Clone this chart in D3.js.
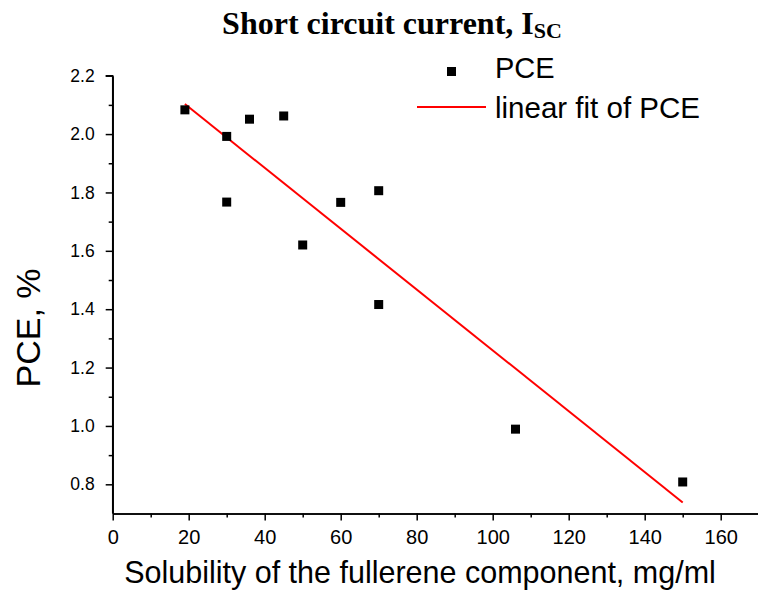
<!DOCTYPE html>
<html>
<head>
<meta charset="utf-8">
<script src="https://cdn.jsdelivr.net/npm/d3@7"></script>
<style>
  body { margin: 0; background: #fff; }
  svg { display: block; }
  text { font-family: Arial, "Liberation Sans", sans-serif; fill: #000; }
</style>
</head>
<body>
<div class="div-chart"></div>
<script>
// values
const solubility = [19, 30, 36, 45, 30, 60, 70, 50, 70, 106, 150];
const pce = [2.083, 1.992, 2.051, 2.062, 1.767, 1.766, 1.806, 1.62, 1.416, 0.989, 0.808];
const fitX = [19, 150];
const fitY = [2.103, 0.738];
const xTicks = [0, 20, 40, 60, 80, 100, 120, 140, 160];
const xMinor = [10, 30, 50, 70, 90, 110, 130, 150, 170];
const yTicks = [0.8, 1.0, 1.2, 1.4, 1.6, 1.8, 2.0, 2.2];
const yMinor = [0.9, 1.1, 1.3, 1.5, 1.7, 1.9, 2.1];

const width = 758, height = 593;

const svg = d3.select('.div-chart')
    .append('svg')
    .attr('width', width)
    .attr('height', height);

const xScale = d3.scaleLinear()
    .domain([0, 170])
    .range([112.7, 758.7]);

const yScale = d3.scaleLinear()
    .domain([0.7, 2.2])
    .range([513.5, 75.7]);

// x axis
const xAxis = svg.append("g")
    .attr("transform", `translate(0,${yScale(0.7)})`)
    .call(d3.axisBottom(xScale).tickValues(xTicks).tickSize(7).tickSizeOuter(0).tickFormat(d3.format("d")));
xAxis.append("g")
    .call(d3.axisBottom(xScale).tickValues(xMinor).tickSize(4).tickSizeOuter(0).tickFormat(""));
xAxis.selectAll("path, line").attr("stroke", "#000").attr("stroke-width", 1.5);
xAxis.selectAll("text")
    .attr("y", 30.5).attr("dy", null)
    .style("font-size", "20px")
    .style("font-family", "Arial, 'Liberation Sans', sans-serif");

// y axis
const yAxis = svg.append("g")
    .attr("transform", `translate(${xScale(0)},0)`)
    .call(d3.axisLeft(yScale).tickValues(yTicks).tickSize(7).tickSizeOuter(0).tickPadding(11).tickFormat(d3.format(".1f")));
yAxis.append("g")
    .call(d3.axisLeft(yScale).tickValues(yMinor).tickSize(4).tickSizeOuter(0).tickFormat(""));
yAxis.select(".domain").attr("d", `M0,${yScale(0.7)}V${yScale(2.2)}H-7`);
yAxis.selectAll("path, line").attr("stroke", "#000").attr("stroke-width", 1.5);
yAxis.selectAll("text")
    .style("font-size", "17.5px")
    .style("font-family", "Arial, 'Liberation Sans', sans-serif");

// fit line
svg.append("path")
    .datum(fitX.map((x, i) => [x, fitY[i]]))
    .attr("fill", "none")
    .attr("stroke", "#ff0000")
    .attr("stroke-width", 2)
    .attr("d", d3.line().x(d => xScale(d[0])).y(d => yScale(d[1])));

// data points
svg.selectAll(".dot")
    .data(solubility.map((x, i) => ({x: x, y: pce[i]})))
    .enter().append("rect")
    .attr("class", "dot")
    .attr("x", d => xScale(d.x) - 4.5)
    .attr("y", d => yScale(d.y) - 4.5)
    .attr("width", 9)
    .attr("height", 9)
    .attr("fill", "#000");

// title
const title = svg.append("text")
    .attr("x", 392)
    .attr("y", 34)
    .attr("text-anchor", "middle")
    .style("font-family", "'Liberation Serif', 'Times New Roman', serif")
    .style("font-weight", "bold")
    .style("font-size", "32px");
title.append("tspan").text("Short circuit current, I");
title.append("tspan").attr("dy", 4).style("font-size", "22px").text("SC");

// axis titles
svg.append("text")
    .attr("x", 420)
    .attr("y", 583)
    .attr("text-anchor", "middle")
    .style("font-size", "30.5px")
    .text("Solubility of the fullerene component, mg/ml");

svg.append("text")
    .attr("transform", "translate(40,328) rotate(-90)")
    .attr("text-anchor", "middle")
    .style("font-size", "34px")
    .text("PCE, %");

// legend
const legend = svg.append("g");
legend.append("rect")
    .attr("x", 447).attr("y", 67).attr("width", 9).attr("height", 9)
    .attr("fill", "#000");
legend.append("text")
    .attr("x", 495).attr("y", 78)
    .style("font-size", "29px")
    .text("PCE");
legend.append("line")
    .attr("x1", 417).attr("x2", 486).attr("y1", 107).attr("y2", 107)
    .attr("stroke", "#ff0000").attr("stroke-width", 2);
legend.append("text")
    .attr("x", 495).attr("y", 118)
    .style("font-size", "29.5px")
    .text("linear fit of PCE");
</script>
</body>
</html>
